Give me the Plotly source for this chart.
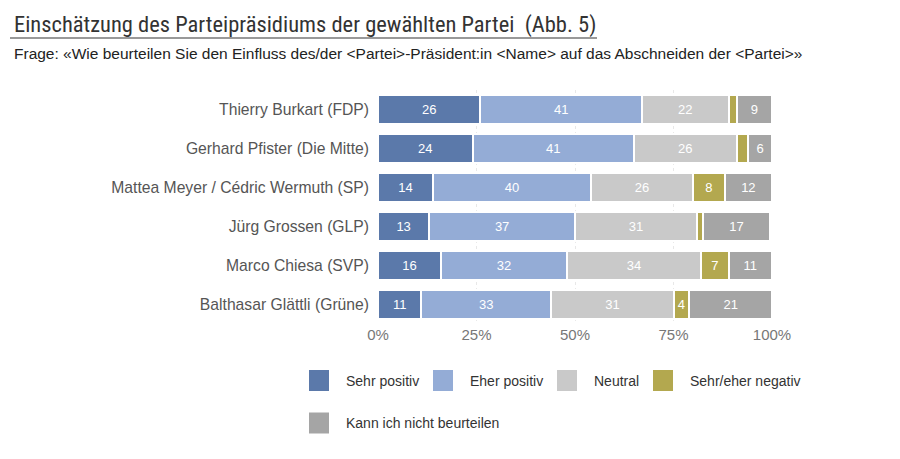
import plotly.graph_objects as go

names = ["Thierry Burkart (FDP)", "Gerhard Pfister (Die Mitte)", "Mattea Meyer / Cédric Wermuth (SP)",
         "Jürg Grossen (GLP)", "Marco Chiesa (SVP)", "Balthasar Glättli (Grüne)"]
series = ["Sehr positiv", "Eher positiv", "Neutral", "Sehr/eher negativ", "Kann ich nicht beurteilen"]
sehr_positiv = [26, 24, 14, 13, 16, 11]
eher_positiv = [41, 41, 40, 37, 32, 33]
neutral = [22, 26, 26, 31, 34, 31]
negativ = [2, 3, 8, 1.5, 7, 4]
kann_nicht = [9, 6, 12, 17, 11, 21]
values = [sehr_positiv, eher_positiv, neutral, negativ, kann_nicht]
colors = ["#5b79aa", "#94acd6", "#c9c9c9", "#b3a84f", "#a5a5a5"]
tick_vals = [0, 25, 50, 75, 100]
tick_text = ["0%", "25%", "50%", "75%", "100%"]

SANS = "Arial, Liberation Sans, sans-serif"
NARROW = "Roboto Condensed, Liberation Sans Narrow, Arial Narrow, sans-serif"

# page offset (body margin) compensation
OFF = 8
W, H = 900 - OFF, 459 - OFF
PL, PR, PT, PB = 378 - OFF, 772 - OFF, 90 - OFF, 324 - OFF
PW, PH = PR - PL, PB - PT

def px(x):
    return (x - OFF - PL) / PW

def py(y):
    return 1 - (y - OFF - PT) / PH

fig = go.Figure()
for s, v, c in zip(series, values, colors):
    fig.add_trace(go.Bar(
        y=names, x=v, name=s, orientation="h",
        marker=dict(color=c, line=dict(color="white", width=2)),
        text=[str(x) if x >= 4 else "" for x in v],
        textposition="inside", insidetextanchor="middle",
        textfont=dict(color="white", size=13, family=SANS),
        showlegend=False, hoverinfo="x+y+name",
    ))

fig.update_layout(
    barmode="stack", bargap=0.28,
    width=W, height=H,
    margin=dict(l=PL, r=W - PR, t=PT, b=H - PB, autoexpand=False),
    plot_bgcolor="white", paper_bgcolor="white",
    font=dict(family=SANS, color="#444"),
    xaxis=dict(range=[0, 100], tickvals=tick_vals, ticktext=tick_text, showgrid=True,
               gridcolor="#e8e8e8", griddash="dot", zeroline=False,
               tickfont=dict(size=15, color="#777"), fixedrange=True),
    yaxis=dict(autorange="reversed", tickfont=dict(size=15.7, color="#555"),
               ticks="", ticklabelstandoff=8, showgrid=False),
)

# Title and subtitle
fig.add_annotation(text="Einschätzung des Parteipräsidiums der gewählten Partei  (Abb. 5)",
                   xref="paper", yref="paper", x=px(12), y=py(24),
                   xanchor="left", yanchor="middle", showarrow=False,
                   font=dict(size=22.5, color="#333", family=NARROW))
fig.add_shape(type="line", xref="paper", yref="paper",
              x0=px(10), x1=px(597), y0=py(38), y1=py(38),
              line=dict(color="#777", width=1.5))
fig.add_annotation(text="Frage: «Wie beurteilen Sie den Einfluss des/der &lt;Partei&gt;-Präsident:in &lt;Name&gt; auf das Abschneiden der &lt;Partei&gt;»",
                   xref="paper", yref="paper", x=px(12), y=py(53),
                   xanchor="left", yanchor="middle", showarrow=False,
                   font=dict(size=15.5, color="#222", family=SANS))

# Custom legend
legend_pos = [(309, 380.5), (433, 380.5), (557, 380.5), (653, 380.5), (309, 423)]
for (lx, ly), s, c in zip(legend_pos, series, colors):
    fig.add_shape(type="rect", xref="paper", yref="paper",
                  x0=px(lx), x1=px(lx + 20), y0=py(ly - 10.5), y1=py(ly + 10.5),
                  fillcolor=c, line=dict(width=0))
    fig.add_annotation(text=s, xref="paper", yref="paper",
                       x=px(lx + 35), y=py(ly),
                       xanchor="left", yanchor="middle", showarrow=False,
                       font=dict(size=14, color="#333"))

fig.write_html("out.html")
